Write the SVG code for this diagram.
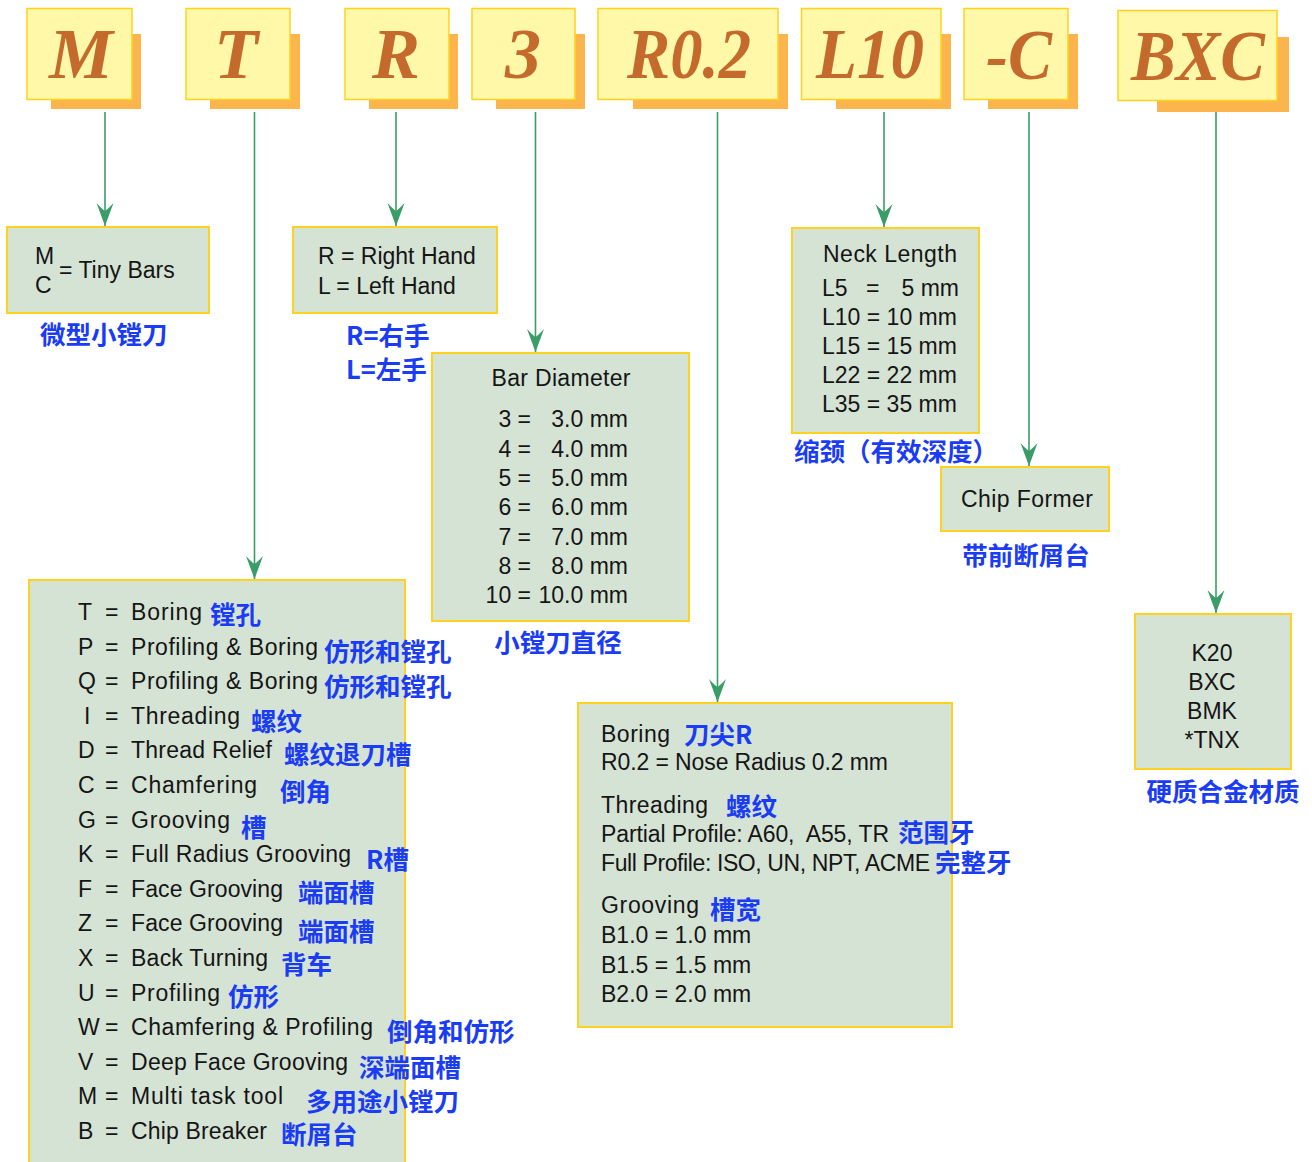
<svg xmlns="http://www.w3.org/2000/svg" width="1312" height="1162" viewBox="0 0 1312 1162">
<defs>
<style>
.shadow{fill:#FBB54C}
.code{fill:#FFF8A8;stroke:#FFD21F;stroke-width:1.5}
.ct{font-family:"Liberation Serif",serif;font-weight:bold;font-style:italic;font-size:72px;fill:#C46A2C;text-anchor:middle}
.box{fill:#D5E3D5;stroke:#FFD21F;stroke-width:2}
.t{font-family:"Liberation Sans",Arial,sans-serif;font-size:23px;fill:#151515}
.m{text-anchor:middle}
.e{text-anchor:end}
.cn{font-family:"Noto Sans CJK SC","Liberation Sans",sans-serif;font-weight:bold;font-size:25.5px;fill:#1A3CF5}
.con{stroke:#3A9D68;stroke-width:1.6;fill:none;marker-end:url(#arr)}
</style>
<marker id="arr" markerUnits="userSpaceOnUse" markerWidth="30" markerHeight="30" refX="0" refY="0" orient="auto" overflow="visible">
<path d="M0,0 L-23,-8.5 Q-17,-3 -15,0 Q-17,3 -23,8.5 Z" fill="#3A9D68"/>
</marker>
</defs>

<g id="code-M">
<rect class="shadow" x="51" y="34" width="90" height="75"/>
<rect class="code" x="27" y="8.5" width="105" height="91"/>
<text class="ct" x="81" y="78">M</text>
</g>
<g id="code-T">
<rect class="shadow" x="210" y="34" width="90" height="75"/>
<rect class="code" x="186" y="8.5" width="104" height="91"/>
<text class="ct" x="236" y="78">T</text>
</g>
<g id="code-R">
<rect class="shadow" x="369" y="34" width="89" height="75"/>
<rect class="code" x="345" y="8.5" width="104" height="91"/>
<text class="ct" x="396" y="78">R</text>
</g>
<g id="code-3">
<rect class="shadow" x="496" y="34" width="89" height="75"/>
<rect class="code" x="472" y="8.5" width="103" height="91"/>
<text class="ct" x="523" y="78">3</text>
</g>
<g id="code-R02">
<rect class="shadow" x="633" y="34" width="155" height="75"/>
<rect class="code" x="598" y="8.5" width="180" height="91"/>
<text class="ct" x="689" y="78" textLength="124" lengthAdjust="spacingAndGlyphs">R0.2</text>
</g>
<g id="code-L10">
<rect class="shadow" x="836" y="34" width="115" height="75"/>
<rect class="code" x="801.5" y="8.5" width="139.5" height="91"/>
<text class="ct" x="870" y="78" textLength="108" lengthAdjust="spacingAndGlyphs">L10</text>
</g>
<g id="code-C">
<rect class="shadow" x="988" y="34" width="90" height="75"/>
<rect class="code" x="964" y="8.5" width="104" height="91"/>
<text class="ct" x="1019" y="79" textLength="66" lengthAdjust="spacingAndGlyphs">-C</text>
</g>
<g id="code-BXC">
<rect class="shadow" x="1157" y="37" width="132" height="75"/>
<rect class="code" x="1118" y="10.5" width="159" height="90"/>
<text class="ct" x="1198" y="80" textLength="134" lengthAdjust="spacingAndGlyphs">BXC</text>
</g>

<g id="connectors">
<line class="con" x1="105" y1="112" x2="105" y2="226"/>
<line class="con" x1="254.5" y1="112" x2="254.5" y2="579"/>
<line class="con" x1="396" y1="112" x2="396" y2="226"/>
<line class="con" x1="535.5" y1="112" x2="535.5" y2="352"/>
<line class="con" x1="717.5" y1="112" x2="717.5" y2="702"/>
<line class="con" x1="884" y1="112" x2="884" y2="227"/>
<line class="con" x1="1029" y1="112" x2="1029" y2="466"/>
<line class="con" x1="1216" y1="112" x2="1216" y2="613"/>
</g>

<g id="node-tiny">
<rect class="box" x="7" y="227" width="202" height="86"/>
<text class="t" x="35" y="264">M</text>
<text class="t" x="35" y="293">C</text>
<text class="t" x="59" y="278">= Tiny Bars</text>
<text class="cn" x="40" y="344">微型小镗刀</text>
</g>

<g id="node-hand">
<rect class="box" x="293" y="227" width="204" height="86"/>
<text class="t" x="318" y="264">R = Right Hand</text>
<text class="t" x="318" y="294">L = Left Hand</text>
<text class="cn" x="346" y="345">R=右手</text>
<text class="cn" x="346" y="379">L=左手</text>
</g>

<g id="node-diameter">
<rect class="box" x="432" y="353" width="257" height="268"/>
<text class="t m" x="561" y="386" textLength="139">Bar Diameter</text>
<text class="t e" x="531" y="427">3 =</text><text class="t e" x="628" y="427">3.0 mm</text>
<text class="t e" x="531" y="456.5">4 =</text><text class="t e" x="628" y="456.5">4.0 mm</text>
<text class="t e" x="531" y="486">5 =</text><text class="t e" x="628" y="486">5.0 mm</text>
<text class="t e" x="531" y="515">6 =</text><text class="t e" x="628" y="515">6.0 mm</text>
<text class="t e" x="531" y="544.5">7 =</text><text class="t e" x="628" y="544.5">7.0 mm</text>
<text class="t e" x="531" y="574">8 =</text><text class="t e" x="628" y="574">8.0 mm</text>
<text class="t e" x="531" y="603">10 =</text><text class="t e" x="628" y="603">10.0 mm</text>
<text class="cn m" x="558" y="652">小镗刀直径</text>
</g>

<g id="node-neck">
<rect class="box" x="792" y="228" width="187" height="205"/>
<text class="t" x="823" y="262" textLength="134">Neck Length</text>
<text class="t" x="822" y="296">L5</text><text class="t" x="866" y="296">=</text><text class="t e" x="959" y="296">5 mm</text>
<text class="t" x="822" y="325">L10 = 10 mm</text>
<text class="t" x="822" y="354">L15 = 15 mm</text>
<text class="t" x="822" y="383">L22 = 22 mm</text>
<text class="t" x="822" y="412">L35 = 35 mm</text>
<text class="cn" x="794" y="461">缩颈（有效深度）</text>
</g>

<g id="node-chip">
<rect class="box" x="941" y="467" width="168" height="64"/>
<text class="t" x="961" y="507" textLength="132">Chip Former</text>
<text class="cn m" x="1026" y="565">带前断屑台</text>
</g>

<g id="node-type">
<rect class="box" x="29" y="580" width="376" height="600"/>
<g class="t">
<text x="78" y="620">T</text><text x="105" y="620">=</text><text x="131" y="620" textLength="71">Boring</text>
<text x="78" y="654.6">P</text><text x="105" y="654.6">=</text><text x="131" y="654.6" textLength="187">Profiling &amp; Boring</text>
<text x="78" y="689.2">Q</text><text x="105" y="689.2">=</text><text x="131" y="689.2" textLength="187">Profiling &amp; Boring</text>
<text x="84" y="723.8">I</text><text x="105" y="723.8">=</text><text x="131" y="723.8" textLength="109">Threading</text>
<text x="78" y="758.4">D</text><text x="105" y="758.4">=</text><text x="131" y="758.4" textLength="141">Thread Relief</text>
<text x="78" y="793">C</text><text x="105" y="793">=</text><text x="131" y="793" textLength="126">Chamfering</text>
<text x="78" y="827.6">G</text><text x="105" y="827.6">=</text><text x="131" y="827.6" textLength="99">Grooving</text>
<text x="78" y="862.2">K</text><text x="105" y="862.2">=</text><text x="131" y="862.2" textLength="220">Full Radius Grooving</text>
<text x="78" y="896.8">F</text><text x="105" y="896.8">=</text><text x="131" y="896.8" textLength="152">Face Grooving</text>
<text x="78" y="931.4">Z</text><text x="105" y="931.4">=</text><text x="131" y="931.4" textLength="152">Face Grooving</text>
<text x="78" y="966">X</text><text x="105" y="966">=</text><text x="131" y="966" textLength="137">Back Turning</text>
<text x="78" y="1000.6">U</text><text x="105" y="1000.6">=</text><text x="131" y="1000.6" textLength="89">Profiling</text>
<text x="78" y="1035.2">W</text><text x="105" y="1035.2">=</text><text x="131" y="1035.2" textLength="242">Chamfering &amp; Profiling</text>
<text x="78" y="1069.8">V</text><text x="105" y="1069.8">=</text><text x="131" y="1069.8" textLength="217">Deep Face Grooving</text>
<text x="78" y="1104.4">M</text><text x="105" y="1104.4">=</text><text x="131" y="1104.4" textLength="152">Multi task tool</text>
<text x="78" y="1139">B</text><text x="105" y="1139">=</text><text x="131" y="1139" textLength="136">Chip Breaker</text>
</g>
<g class="cn">
<text x="210" y="624">镗孔</text>
<text x="324" y="661">仿形和镗孔</text>
<text x="324" y="696">仿形和镗孔</text>
<text x="251" y="731">螺纹</text>
<text x="284" y="764">螺纹退刀槽</text>
<text x="280" y="801">倒角</text>
<text x="241" y="837">槽</text>
<text x="366" y="869">R槽</text>
<text x="298" y="902">端面槽</text>
<text x="298" y="941">端面槽</text>
<text x="281" y="974">背车</text>
<text x="228" y="1006">仿形</text>
<text x="387" y="1041">倒角和仿形</text>
<text x="359" y="1077">深端面槽</text>
<text x="306" y="1111">多用途小镗刀</text>
<text x="281" y="1144">断屑台</text>
</g>
</g>

<g id="node-radius">
<rect class="box" x="578" y="703" width="374" height="324"/>
<g class="t">
<text x="601" y="742" textLength="69">Boring</text>
<text x="601" y="770" textLength="287">R0.2 = Nose Radius 0.2 mm</text>
<text x="601" y="813" textLength="107">Threading</text>
<text x="601" y="842" textLength="288" xml:space="preserve">Partial Profile: A60,  A55, TR</text>
<text x="601" y="871" textLength="329">Full Profile: ISO, UN, NPT, ACME</text>
<text x="601" y="913" textLength="98">Grooving</text>
<text x="601" y="943">B1.0 = 1.0 mm</text>
<text x="601" y="973">B1.5 = 1.5 mm</text>
<text x="601" y="1002">B2.0 = 2.0 mm</text>
</g>
<g class="cn">
<text x="684" y="744">刀尖R</text>
<text x="726" y="816">螺纹</text>
<text x="898" y="842">范围牙</text>
<text x="935" y="872">完整牙</text>
<text x="710" y="919">槽宽</text>
</g>
</g>

<g id="node-grade">
<rect class="box" x="1135" y="614" width="156" height="155"/>
<text class="t m" x="1212" y="661">K20</text>
<text class="t m" x="1212" y="690">BXC</text>
<text class="t m" x="1212" y="719">BMK</text>
<text class="t m" x="1212" y="748">*TNX</text>
<text class="cn m" x="1223" y="801">硬质合金材质</text>
</g>
</svg>
